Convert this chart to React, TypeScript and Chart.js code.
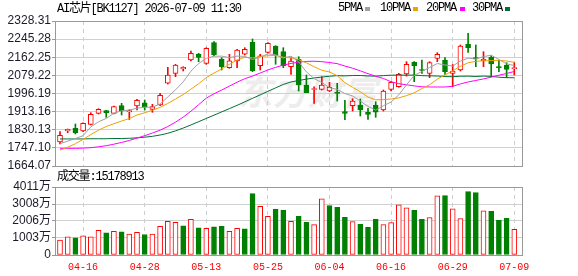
import React, { useEffect, useRef } from 'react';
import { Chart, registerables } from 'chart.js';

Chart.register(...registerables);

const title = 'AI芯片[BK1127] 2026-07-09 11:30';
const volLabel = '成交量:15178913';

const dates = [
  '04-13', '04-14', '04-15', '04-16', '04-17', '04-20', '04-21', '04-22', '04-23', '04-24',
  '04-27', '04-28', '04-29', '04-30', '05-06', '05-07', '05-08', '05-11', '05-12', '05-13',
  '05-14', '05-15', '05-18', '05-19', '05-20', '05-21', '05-22', '05-25', '05-26', '05-27',
  '05-28', '05-29', '06-01', '06-02', '06-03', '06-04', '06-05', '06-08', '06-09', '06-10',
  '06-11', '06-12', '06-15', '06-16', '06-17', '06-18', '06-22', '06-23', '06-24', '06-25',
  '06-26', '06-29', '06-30', '07-01', '07-02', '07-03', '07-06', '07-07', '07-08', '07-09',
];
const dateTickIdx = [3, 11, 19, 27, 35, 43, 51, 59];

const openP = [
  1774.0, 1824.4, 1836.8, 1824.4, 1855.1, 1905.5, 1917.4, 1905.5, 1940.3, 1911.4,
  1939.0, 1954.0, 1923.8, 1943.5, 2043.0, 2088.7, 2108.4, 2149.7, 2177.1, 2134.5,
  2228.9, 2154.2, 2114.4, 2145.1, 2175.8, 2230.7, 2123.5, 2184.9, 2213.8, 2187.7,
  2119.0, 2152.9, 2035.1, 2014.5, 2015.4, 2007.6, 2003.1, 1912.8, 1940.3, 1943.5,
  1910.1, 1943.5, 1920.6, 2015.4, 2027.3, 2085.5, 2139.1, 2106.1, 2088.7, 2157.4,
  2149.7, 2088.7, 2103.9, 2221.6, 2160.2, 2146.4, 2162.0, 2119.0, 2126.7, 2109.8,
];
const highP = [
  1821.2, 1833.6, 1856.5, 1862.4, 1908.4, 1926.6, 1919.0, 1939.0, 1951.3, 1922.0,
  1969.6, 1966.4, 1946.7, 1997.1, 2116.2, 2130.0, 2119.0, 2190.9, 2180.3, 2206.0,
  2233.5, 2160.2, 2175.8, 2198.7, 2206.0, 2245.8, 2175.8, 2228.9, 2215.2, 2206.0,
  2160.2, 2164.8, 2081.0, 2027.3, 2073.2, 2047.5, 2043.0, 1965.0, 1972.4, 1971.0,
  1928.4, 1958.6, 2012.2, 2050.3, 2088.7, 2141.9, 2142.8, 2149.7, 2141.9, 2183.1,
  2160.2, 2129.0, 2218.4, 2271.9, 2218.4, 2187.7, 2169.3, 2149.7, 2137.3, 2137.3,
];
const lowP = [
  1764.8, 1816.6, 1810.7, 1821.2, 1851.9, 1902.3, 1887.2, 1902.3, 1897.7, 1877.0,
  1920.6, 1920.6, 1910.0, 1940.3, 2039.7, 2073.2, 2099.3, 2145.1, 2141.9, 2130.0,
  2169.3, 2103.9, 2111.6, 2114.4, 2172.6, 2096.1, 2103.9, 2181.7, 2130.0, 2114.4,
  2084.1, 2007.6, 1999.8, 1951.3, 2012.2, 2004.4, 1961.8, 1876.2, 1916.0, 1893.1,
  1878.0, 1887.2, 1916.0, 2007.6, 2024.6, 2076.0, 2050.3, 2088.7, 2068.6, 2141.9,
  2084.1, 2027.3, 2099.3, 2184.9, 2119.0, 2119.0, 2073.2, 2096.1, 2068.6, 2081.0,
];
const closeP = [
  1804.7, 1832.2, 1816.6, 1859.7, 1901.1, 1923.8, 1908.2, 1935.7, 1916.0, 1918.3,
  1965.0, 1933.0, 1935.7, 1988.0, 2081.0, 2126.7, 2116.2, 2180.3, 2162.0, 2203.2,
  2172.6, 2119.0, 2146.4, 2195.5, 2198.7, 2100.6, 2169.3, 2226.1, 2172.6, 2123.5,
  2145.1, 2035.1, 1999.8, 2019.1, 2035.1, 2024.6, 1996.2, 1905.5, 1961.8, 1920.6,
  1900.9, 1910.1, 2007.6, 2047.5, 2084.1, 2130.0, 2123.5, 2101.5, 2137.3, 2175.8,
  2096.1, 2099.3, 2213.8, 2206.0, 2154.2, 2152.9, 2131.3, 2114.4, 2107.0, 2114.4,
];

const ma5 = [
  1766, 1778, 1790, 1803, 1842.9, 1866.7, 1881.9, 1905.7, 1917.0, 1920.4,
  1928.6, 1933.6, 1933.6, 1948.0, 1980.5, 2012.9, 2049.5, 2098.4, 2133.2, 2157.7,
  2166.9, 2167.4, 2160.6, 2167.3, 2166.4, 2152.0, 2162.1, 2178.0, 2173.5, 2158.4,
  2167.3, 2140.5, 2095.2, 2064.5, 2046.8, 2022.7, 2015.0, 1996.1, 1984.6, 1961.7,
  1937.0, 1919.8, 1940.2, 1957.3, 1990.0, 2035.9, 2078.5, 2097.3, 2115.3, 2133.6,
  2126.8, 2122.0, 2144.5, 2158.2, 2153.9, 2165.2, 2171.6, 2151.8, 2132.0, 2124.0,
];
const ma10 = [
  1737, 1750, 1766, 1786, 1808, 1828, 1845, 1858, 1870, 1881.6,
  1897.7, 1907.7, 1919.7, 1932.5, 1950.5, 1970.8, 1991.6, 2016.0, 2040.6, 2069.1,
  2089.9, 2108.5, 2129.5, 2150.3, 2162.1, 2159.5, 2164.8, 2169.3, 2170.4, 2162.4,
  2159.7, 2151.3, 2136.6, 2119.0, 2102.6, 2095.0, 2077.7, 2045.7, 2024.6, 2004.3,
  1979.9, 1967.4, 1968.2, 1971.0, 1975.9, 1986.4, 1999.2, 2018.8, 2036.3, 2061.8,
  2081.4, 2100.3, 2120.9, 2136.7, 2143.8, 2146.0, 2146.8, 2148.1, 2145.1, 2138.9,
];
const ma20 = [
  1745, 1745, 1745, 1746, 1748, 1752, 1757, 1764, 1772, 1781,
  1792, 1803, 1815, 1828, 1845, 1865, 1888, 1915, 1945, 1975,
  1995, 2012, 2030, 2048, 2064, 2076, 2090, 2104, 2116, 2126,
  2134, 2140, 2143, 2144, 2142, 2138, 2133, 2122, 2112, 2100,
  2087, 2075, 2065, 2050, 2041, 2036, 2031, 2027, 2026, 2026,
  2026, 2029, 2040, 2049, 2056, 2063, 2071, 2080, 2088, 2097,
];
const ma30 = [
  1788, 1788, 1788, 1788, 1789, 1789, 1789, 1790, 1790, 1791,
  1793, 1796, 1800, 1806, 1814, 1825, 1838, 1852, 1867, 1882,
  1897, 1912, 1927, 1942, 1958, 1974, 1990, 2006, 2022, 2037.7,
  2049.1, 2055.8, 2061.9, 2067.3, 2071.7, 2075.1, 2078.0, 2077.0, 2078.5, 2078.6,
  2076.5, 2075.7, 2078.1, 2080.1, 2080.2, 2080.3, 2080.5, 2077.9, 2077.1, 2076.2,
  2073.6, 2073.0, 2075.2, 2075.6, 2074.1, 2075.8, 2074.6, 2070.8, 2068.7, 2068.4,
];

// volume in 万
const volume = [
  877, 1071, 1013, 1130, 1071, 1461, 1305, 1403, 1364, 1227,
  1344, 1208, 1227, 1695, 1987, 1929, 1714, 2104, 1597, 1578,
  1656, 1695, 1403, 1578, 1539, 3623, 2864, 2279, 2708, 2649,
  1987, 2279, 1929, 1792, 3312, 2922, 2805, 2221, 1967, 1812,
  1636, 2104, 1792, 1909, 2961, 2786, 2630, 2104, 2201, 3487,
  3506, 2727, 2143, 3740, 3682, 2610, 2571, 2045, 2162, 1517.9,
];
const volUp = [
  1, 1, 0, 1, 1, 1, 0, 1, 0, 1,
  1, 0, 1, 1, 1, 1, 0, 1, 0, 1,
  0, 0, 1, 1, 0, 0, 1, 1, 0, 0,
  1, 0, 0, 1, 1, 0, 0, 0, 1, 0,
  0, 0, 1, 1, 1, 1, 0, 0, 1, 1,
  0, 1, 1, 0, 0, 1, 0, 0, 0, 1,
];

const priceTicks = [1664.07, 1747.1, 1830.13, 1913.16, 1996.19, 2079.22, 2162.25, 2245.28, 2328.31];
const volTicks = [0, 1003, 2006, 3008, 4011];

const legendItems = [
  { label: '5PMA', color: '#a0a0a0', textX: 338, boxX: 365 },
  { label: '10PMA', color: '#f0a000', textX: 380, boxX: 413 },
  { label: '20PMA', color: '#ff00ff', textX: 426, boxX: 460 },
  { label: '30PMA', color: '#007036', textX: 472, boxX: 505 },
];

const RED = '#ff0000';
const GREEN = '#008000';
const AXIS_FONT = "'Liberation Sans', Arial, sans-serif";
const MONO = "'Liberation Mono', 'Noto Sans CJK SC', monospace";

const boxPlugin = {
  id: 'plotBox',
  beforeDatasetsDraw(chart: any) {
    const { ctx, chartArea } = chart;
    const { left, top, right, bottom } = chartArea;
    ctx.save();
    ctx.strokeStyle = '#999999';
    ctx.lineWidth = 1;
    ctx.strokeRect(Math.round(left) + 0.5, Math.round(top) + 0.5, Math.round(right - left), Math.round(bottom - top));
    ctx.restore();
  },
};

const xScaleBase = (showLabels: boolean) => ({
  type: 'linear',
  min: -0.65,
  max: 60,
  offset: false,
  afterBuildTicks: (s: any) => {
    s.ticks = dateTickIdx.map((v) => ({ value: v }));
  },
  afterFit: (s: any) => {
    s.height = showLabels ? 21 : 0;
  },
  ticks: {
    display: showLabels,
    autoSkip: false,
    maxRotation: 0,
    padding: 6,
    color: RED,
    font: { family: MONO, size: 10 },
    callback: (v: any) => dates[Math.round(Number(v))] ?? '',
  },
  grid: { color: '#cccccc', drawTicks: false, offset: false },
  border: { display: false, dash: [4, 4] },
});

export default function App() {
  const mainRef = useRef<HTMLCanvasElement | null>(null);
  const volRef = useRef<HTMLCanvasElement | null>(null);

  useEffect(() => {
    const up = closeP.map((c, i) => c >= openP[i]);
    const lineDs = (label: string, arr: number[], color: string) => ({
      type: 'line',
      label,
      data: arr.map((v, i) => ({ x: i, y: v })),
      borderColor: color,
      borderWidth: 1,
      pointRadius: 0,
      tension: 0,
      fill: false,
      order: 0,
    });

    const main = new Chart(mainRef.current as HTMLCanvasElement, {
      type: 'bar',
      data: {
        datasets: [
          lineDs('5PMA', ma5, '#a0a0a0'),
          lineDs('10PMA', ma10, '#f0a000'),
          lineDs('20PMA', ma20, '#ff00ff'),
          lineDs('30PMA', ma30, '#007036'),
          {
            type: 'bar',
            label: 'body',
            data: openP.map((o, i) => ({ x: i, y: [o, closeP[i]] })),
            backgroundColor: up.map((u) => (u ? '#ffffff' : GREEN)),
            borderColor: up.map((u) => (u ? RED : GREEN)),
            borderWidth: 1,
            borderSkipped: false,
            barThickness: 5,
            minBarLength: 1,
            grouped: false,
            order: 1,
          },
          {
            type: 'bar',
            label: 'wick',
            data: lowP.map((l, i) => ({ x: i, y: [l, highP[i]] })),
            backgroundColor: up.map((u) => (u ? RED : GREEN)),
            borderWidth: 0,
            barThickness: 1,
            grouped: false,
            order: 2,
          },
        ] as any,
      },
      options: {
        responsive: false,
        animation: false,
        layout: { padding: { top: 21, right: 56, bottom: 10, left: 0 } },
        plugins: { legend: { display: false }, tooltip: { enabled: false } },
        scales: {
          x: xScaleBase(false) as any,
          y: {
            type: 'linear',
            min: 1664.07,
            max: 2328.31,
            afterBuildTicks: (s: any) => {
              s.ticks = priceTicks.map((v) => ({ value: v }));
            },
            afterFit: (s: any) => {
              s.width = 55;
            },
            ticks: {
              autoSkip: false,
              callback: (v: any) => Number(v).toFixed(2),
              font: { family: AXIS_FONT, size: 12 },
              color: '#1a1a2a',
              padding: 1,
            },
            grid: { color: '#d0d0d0', tickLength: 3, tickColor: '#999999' },
            border: { display: false },
          },
        },
      },
      plugins: [boxPlugin],
    } as any);

    const vol = new Chart(volRef.current as HTMLCanvasElement, {
      type: 'bar',
      data: {
        datasets: [
          {
            label: '成交量',
            data: volume.map((v, i) => ({ x: i, y: v })),
            backgroundColor: volUp.map((u) => (u ? '#ffffff' : GREEN)),
            borderColor: volUp.map((u) => (u ? RED : GREEN)),
            borderWidth: 1,
            borderSkipped: false,
            barThickness: 5,
            grouped: false,
          },
        ] as any,
      },
      options: {
        responsive: false,
        animation: false,
        layout: { padding: { top: 17, right: 56, bottom: 0, left: 0 } },
        plugins: { legend: { display: false }, tooltip: { enabled: false } },
        scales: {
          x: xScaleBase(true) as any,
          y: {
            type: 'linear',
            min: 0,
            max: 4011,
            afterBuildTicks: (s: any) => {
              s.ticks = volTicks.map((v) => ({ value: v }));
            },
            afterFit: (s: any) => {
              s.width = 55;
            },
            ticks: {
              autoSkip: false,
              callback: (v: any) => (Number(v) === 0 ? '0' : `${v}万`),
              font: { family: "'Liberation Sans', 'Noto Sans CJK SC', sans-serif", size: 12 },
              color: '#1a1a2a',
              padding: 1,
            },
            grid: { color: '#d0d0d0', tickLength: 3, tickColor: '#999999' },
            border: { display: false },
          },
        },
      },
      plugins: [boxPlugin],
    } as any);

    return () => {
      main.destroy();
      vol.destroy();
    };
  }, []);

  const textStyle: React.CSSProperties = {
    position: 'absolute',
    fontFamily: MONO,
    fontSize: 12,
    letterSpacing: '-1.2px',
    lineHeight: '14px',
    whiteSpace: 'nowrap',
    color: '#000',
  };

  return (
    <div style={{ position: 'fixed', left: 0, top: 0, width: 578, height: 276, background: '#fff', overflow: 'hidden' }}>
      <div
        style={{
          position: 'absolute',
          left: 238,
          top: 66,
          fontFamily: "'Noto Sans CJK SC', sans-serif",
          fontSize: 34,
          fontWeight: 700,
          fontStyle: 'italic',
          letterSpacing: '1px',
          color: '#ededed',
          whiteSpace: 'nowrap',
        }}
      >
        东方财富
      </div>
      <canvas ref={mainRef} width={578} height={176} style={{ position: 'absolute', left: 0, top: 0 }} />
      <canvas ref={volRef} width={578} height={106} style={{ position: 'absolute', left: 0, top: 170 }} />
      <div style={{ ...textStyle, left: 57, top: 2 }}>{title}</div>
      {legendItems.map((it) => (
        <React.Fragment key={it.label}>
          <div style={{ ...textStyle, left: it.textX, top: 1 }}>{it.label}</div>
          <div style={{ position: 'absolute', left: it.boxX, top: 7, width: 5, height: 4, background: it.color }} />
        </React.Fragment>
      ))}
      <div style={{ ...textStyle, left: 57, top: 170 }}>{volLabel}</div>
    </div>
  );
}
